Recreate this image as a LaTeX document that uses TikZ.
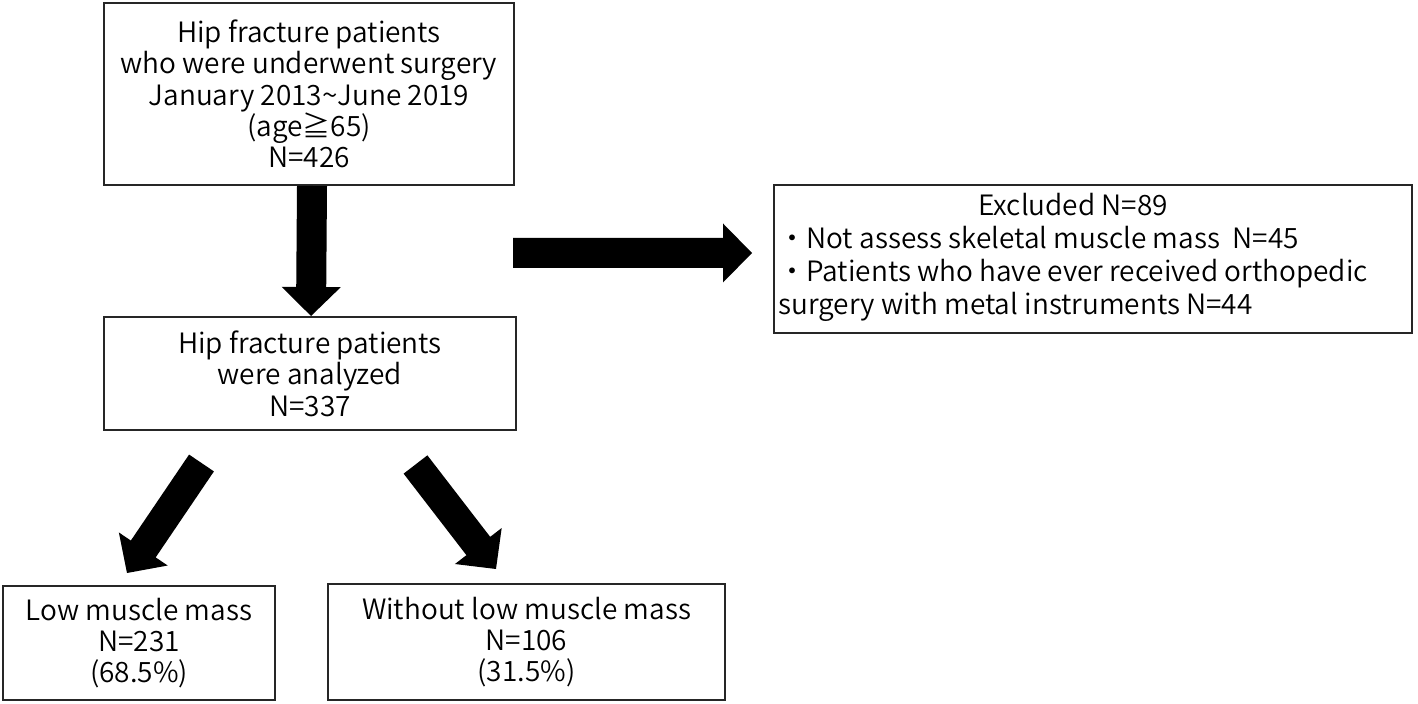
\documentclass[tikz,border=0pt]{standalone}
\usepackage{fontspec}
\setmainfont{Noto Sans CJK JP}[UprightFont=* DemiLight]
\usetikzlibrary{calc}
% #1 tail, #2 tip, #3 shaft half width, #4 head half width, #5 head length
\newcommand\blockarr[5]{%
  \coordinate (ba-h) at ($(#2)!#5!(#1)$);
  \fill[black] ($(#1)!#3!90:(#2)$) -- ($(ba-h)!#3!-90:(#1)$) -- ($(ba-h)!#4!-90:(#1)$)
     -- (#2) -- ($(ba-h)!#4!90:(#1)$) -- ($(ba-h)!#3!90:(#1)$) -- ($(#1)!#3!-90:(#2)$) -- cycle;
}
\begin{document}
\begin{tikzpicture}[x=0.5pt,y=-0.5pt,
  box/.style={draw=black!85, line width=1pt, inner sep=0pt, align=center,
    font=\fontsize{14}{15.7}\selectfont},
  txt/.style={inner sep=0pt, font=\fontsize{14}{16.5}\selectfont}]
\useasboundingbox (0,0) rectangle (1418,704);
\fill[white] (0,0) rectangle (1418,704);

\node[box, minimum width=205pt, minimum height=91pt] (b1) at (309,94)
  {Hip fracture patients\\who were underwent surgery\\January 2013\textasciitilde June 2019\\(age≧65)\\N=426};
\node[box, minimum width=206pt, minimum height=56.5pt] (b2) at (310,373.5)
  {Hip fracture patients\\were analyzed\\N=337};
\node[box, minimum width=319pt, minimum height=74pt] (ex) at (1093,259) {};
\node[txt, anchor=west] (exTxt) at (778,258)
  {\begin{tabular}{@{}l@{}}\multicolumn{1}{@{}c@{}}{Excluded N=89}\\
   ・Not assess skeletal muscle mass\ \ N=45\\
   ・Patients who have ever received orthopedic\\
   surgery with metal instruments N=44\end{tabular}};
\node[box, minimum width=136pt, minimum height=57pt] (low) at (139,643)
  {Low muscle mass\\N=231\\(68.5\%)};
\node[box, minimum width=198.5pt, minimum height=58pt] (wo) at (526.5,642)
  {Without low muscle mass\\N=106\\(31.5\%)};

% arrows
\coordinate (dT) at ($(b1.south)+(3,0)$);
\coordinate (dH) at ($(b2.north)+(1,0)$);
\blockarr{dT}{dH}{7.5pt}{14.75pt}{14.5pt}
\coordinate (rT) at (513,253);
\coordinate (rH) at (752,253);
\blockarr{rT}{rH}{7.5pt}{14.75pt}{14.5pt}
\coordinate (lT) at (201.5,463);
\coordinate (lH) at (127,573);
\blockarr{lT}{lH}{7.5pt}{14.75pt}{14.5pt}
\coordinate (wT) at (415.5,464.5);
\coordinate (wH) at (496,569);
\blockarr{wT}{wH}{7.5pt}{14.75pt}{14.5pt}
\end{tikzpicture}
\end{document}
